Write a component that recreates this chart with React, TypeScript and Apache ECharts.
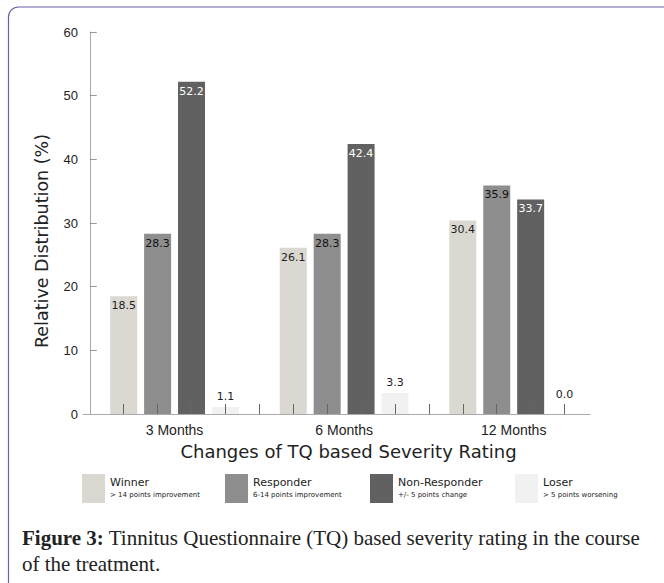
import React, { useEffect, useRef } from "react";
import * as echarts from "echarts";

const categories = ["3 Months", "6 Months", "12 Months"];
const seriesNames = ["Winner", "Responder", "Non-Responder", "Loser"];
const seriesNotes = [
  "> 14 points improvement",
  "6-14 points improvement",
  "+/- 5 points change",
  "> 5 points worsening",
];
const winner = [18.5, 26.1, 30.4];
const responder = [28.3, 28.3, 35.9];
const nonResponder = [52.2, 42.4, 33.7];
const loser = [1.1, 3.3, 0.0];
const yTickValues = [0, 10, 20, 30, 40, 50, 60];

const seriesValues = [winner, responder, nonResponder, loser];
const colors = ["#dbd8d1", "#8e8e8e", "#616161", "#f1f1f1"];
const labelColors = ["#222", "#111", "#fff", "#222"];
const legendLefts = [77, 220, 365, 510];

// slot position: each category holds 4 bars + 1 separator slot
const slotOf = (g: number, s: number) => 1 + 5 * g + s;

export default function App() {
  const ref = useRef<HTMLDivElement>(null);
  useEffect(() => {
    if (!ref.current) return;
    const chart = echarts.init(ref.current, null, { renderer: "svg" });
    const tickSlots: number[] = [];
    for (let k = 1; k <= 14; k++) tickSlots.push(k);
    const labelSlots = categories.map((_, g) => 2.5 + 5 * g);

    const series = seriesValues.map((vals, s) => ({
      name: seriesNames[s],
      type: "bar",
      stack: "all",
      barWidth: 27,
      itemStyle: { color: colors[s] },
      data: vals.map((v, g) => ({
        value: [slotOf(g, s), v],
        label: s === 3 ? { distance: v === 0 ? 14 : 5 } : undefined,
      })),
      label: {
        show: true,
        position: s === 3 ? "top" : "insideTop",
        distance: s === 3 ? 5 : 4,
        color: labelColors[s],
        fontSize: 11,
        fontFamily: "DejaVu Sans",
        formatter: (p: any) => Number(p.value[1]).toFixed(1),
      },
    }));

    const legends = seriesNames.map((n, s) => ({
      data: [n],
      left: legendLefts[s],
      top: 469,
      orient: "horizontal",
      icon: "rect",
      itemWidth: 23,
      itemHeight: 29,
      itemGap: 0,
      selectedMode: false,
      formatter: (name: string) => `{a|${name}}\n{b|${seriesNotes[s]}}`,
      textStyle: {
        rich: {
          a: { fontSize: 11, fontFamily: "DejaVu Sans", color: "#222", lineHeight: 13 },
          b: { fontSize: 7, fontFamily: "DejaVu Sans", color: "#222", lineHeight: 12 },
        },
      },
    }));

    chart.setOption({
      animation: false,
      backgroundColor: "#fff",
      grid: { left: 83, right: 74, top: 32, bottom: 169 },
      xAxis: {
        type: "value",
        min: -0.2,
        max: 14.75,
        z: 10,
        splitLine: { show: false },
        axisLine: { show: true, lineStyle: { color: "#aaa", width: 1 } },
        axisTick: {
          show: true,
          inside: true,
          length: 10,
          customValues: tickSlots,
          lineStyle: { color: "#666" },
        },
        axisLabel: {
          customValues: labelSlots,
          margin: 9,
          fontSize: 14,
          fontFamily: "Liberation Sans",
          color: "#222",
          formatter: (v: number) => categories[Math.round((v - 2.5) / 5)] ?? "",
        },
        name: "Changes of TQ based Severity Rating",
        nameLocation: "middle",
        nameGap: 28,
        nameTextStyle: {
          fontSize: 18,
          fontFamily: "DejaVu Sans",
          color: "#222",
          padding: [0, 0, 0, 24],
        },
      },
      yAxis: {
        type: "value",
        min: yTickValues[0],
        max: yTickValues[yTickValues.length - 1],
        interval: 10,
        splitLine: { show: false },
        axisLine: { show: true, lineStyle: { color: "#aaa" } },
        axisTick: { show: true, inside: true, length: 7, lineStyle: { color: "#999" } },
        axisLabel: { fontSize: 13, fontFamily: "Liberation Sans", color: "#222", margin: 5 },
        name: "Relative Distribution (%)",
        nameLocation: "middle",
        nameGap: 32,
        nameTextStyle: {
          fontSize: 17.5,
          fontFamily: "DejaVu Sans",
          color: "#222",
          padding: [0, 36, 0, 0],
        },
      },
      legend: legends,
      series,
      graphic: [
        {
          type: "rect",
          shape: { x: 8.5, y: 7, width: 700, height: 620, r: 10 },
          style: { fill: "none", stroke: "#6663a6", lineWidth: 1.2 },
          silent: true,
        },
        {
          type: "text",
          left: 22,
          top: 525,
          style: {
            text: "{b|Figure 3:} Tinnitus Questionnaire (TQ) based severity rating in the course\nof the treatment.",
            fontSize: 21,
            fontFamily: "Liberation Serif",
            fill: "#222",
            lineHeight: 26,
            rich: {
              b: { fontSize: 21, fontFamily: "Liberation Serif", fontWeight: "bold", fill: "#222" },
            },
          },
        },
      ],
    });
    return () => chart.dispose();
  }, []);
  return (
    <div
      ref={ref}
      style={{ position: "fixed", left: 0, top: 0, width: 664, height: 583 }}
    />
  );
}
